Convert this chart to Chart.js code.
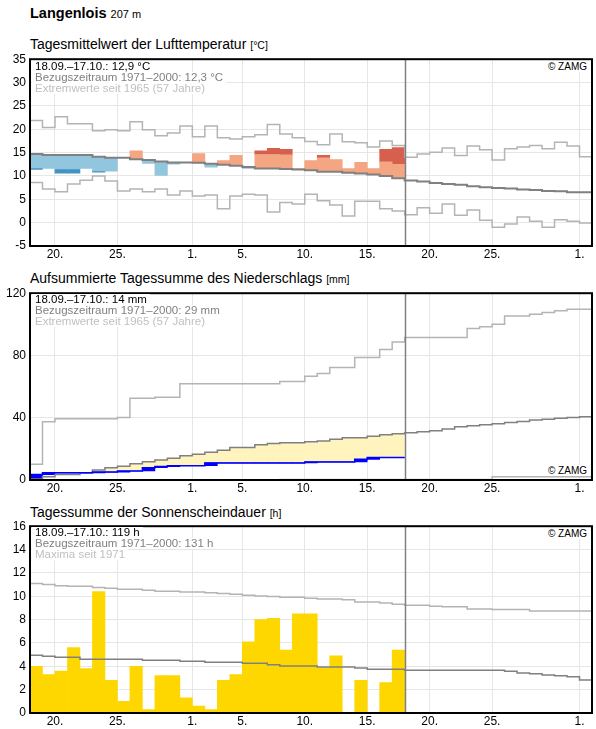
<!DOCTYPE html>
<html lang="de">
<head>
<meta charset="UTF-8">
<title>Langenlois</title>
<style>
  body { margin: 0; background: #fff; font-family: "Liberation Sans", Arial, sans-serif; color: #000; }
  #page { position: relative; width: 596px; height: 729px; overflow: hidden; }
  .box { position: absolute; left: 0; width: 596px; height: 214px; }
  .head { position: absolute; left: 30px; top: 5px; font-size: 14.5px; line-height: 17px; font-weight: bold; white-space: nowrap; }
  .head small { font-size: 11px; font-weight: normal; }
  .title { position: absolute; left: 30px; font-size: 14px; line-height: 16px; white-space: nowrap; }
  .unit { font-size: 10.5px; }
  .info { position: absolute; left: 32px; font-size: 11.5px; line-height: 11px; z-index: 2; white-space: nowrap; }
  .info span { display: block; width: fit-content; background: #fff; padding: 0 3px; }
  .info .ref { color: #808080; }
  .info .ext { color: #c0c0c0; }
  .copy { position: absolute; right: 6px; font-size: 10px; line-height: 11px; background: #fff; padding: 0 3px; z-index: 2; }
</style>
</head>
<body>
<div id="page">
  <div class="head">Langenlois <small>207 m</small></div>

  <div class="title" style="top:36px">Tagesmittelwert der Lufttemperatur <span class="unit">[°C]</span></div>
  <div class="box" style="top:48px"><canvas id="temp"></canvas></div>
  <div class="info" style="top:61px"><span>18.09.–17.10.: 12,9 °C</span><span class="ref">Bezugszeitraum 1971–2000: 12,3 °C</span><span class="ext">Extremwerte seit 1965 (57 Jahre)</span></div>
  <div class="copy" style="top:61px">© ZAMG</div>

  <div class="title" style="top:270px">Aufsummierte Tagessumme des Niederschlags <span class="unit">[mm]</span></div>
  <div class="box" style="top:282px"><canvas id="prec"></canvas></div>
  <div class="info" style="top:294px"><span>18.09.–17.10.: 14 mm</span><span class="ref">Bezugszeitraum 1971–2000: 29 mm</span><span class="ext">Extremwerte seit 1965 (57 Jahre)</span></div>
  <div class="copy" style="top:465px">© ZAMG</div>

  <div class="title" style="top:504px">Tagessumme der Sonnenscheindauer <span class="unit">[h]</span></div>
  <div class="box" style="top:515px"><canvas id="sun"></canvas></div>
  <div class="info" style="top:527px"><span>18.09.–17.10.: 119 h</span><span class="ref">Bezugszeitraum 1971–2000: 131 h</span><span class="ext">Maxima seit 1971</span></div>
  <div class="copy" style="top:528px">© ZAMG</div>
</div>

<script src="https://cdn.jsdelivr.net/npm/chart.js"></script>
<script>
// days 18.09. .. 01.11. (45 days), measured days 18.09. .. 17.10. (30 days)
const tickDays = [2, 7, 13, 17, 22, 27, 32, 37, 44];
const tickLabels = ['20.', '25.', '1.', '5.', '10.', '15.', '20.', '25.', '1.'];
const obsDays = 30;

// air temperature, daily mean [°C]
const tempMax = [21.9, 20.4, 22.7, 21.2, 21.2, 19.7, 19.9, 19.7, 21.6, 19.9, 18.6, 19.2, 20.7, 18.4, 20.7, 18.2, 17.9, 18.4, 18.8, 21.0, 19.0, 18.2, 17.4, 16.7, 19.0, 17.3, 17.1, 16.2, 17.5, 16.5, 14.0, 14.7, 15.1, 16.0, 14.4, 16.4, 15.6, 13.4, 15.8, 16.2, 16.5, 15.8, 17.2, 16.4, 14.1];
const tempMin = [8.6, 7.2, 6.6, 8.3, 9.1, 10.0, 8.9, 6.8, 7.2, 6.6, 7.2, 5.9, 6.8, 5.7, 5.9, 3.0, 5.7, 6.1, 5.9, 2.3, 4.3, 4.0, 6.1, 4.7, 3.8, 1.4, 4.6, 4.6, 3.0, 2.5, 1.7, 3.2, 2.0, 4.0, 1.6, 2.7, 0.5, -1.0, -0.3, 1.2, 0.3, -1.0, 0.6, 0.3, -0.1];
const tempNorm = [14.7, 14.5, 14.5, 14.5, 14.5, 14.1, 13.9, 13.9, 13.6, 13.4, 13.1, 12.9, 12.9, 12.8, 12.6, 12.4, 12.2, 11.9, 11.6, 11.6, 11.5, 11.4, 11.2, 10.9, 10.9, 10.7, 10.5, 10.3, 10.0, 9.5, 9.0, 8.8, 8.5, 8.3, 8.1, 7.8, 7.6, 7.4, 7.3, 7.1, 7.0, 6.8, 6.7, 6.5, 6.5];
const tempObs = [11.4, 11.6, 10.6, 10.6, 11.6, 10.8, 11.0, 13.9, 15.4, 12.7, 10.1, 12.5, 12.9, 14.8, 11.9, 13.3, 14.4, 11.6, 15.4, 15.9, 15.7, 11.6, 13.3, 14.4, 13.5, 11.6, 12.9, 11.6, 15.7, 16.1];

// precipitation, accumulated [mm]
const precMax = [10.1, 37.4, 39.3, 39.3, 39.3, 39.3, 39.3, 40.2, 52.5, 52.5, 53.1, 53.1, 61.9, 61.9, 61.9, 61.9, 61.9, 61.9, 61.9, 61.9, 63.2, 63.2, 66.6, 68.4, 72.2, 72.2, 78.7, 78.7, 83.9, 88.6, 91.6, 91.6, 91.6, 91.6, 91.6, 97.4, 98.5, 100.0, 105.4, 105.4, 106.5, 107.6, 108.8, 109.7, 109.7];
const precMin = [0, 0, 0, 0, 0, 0, 0, 0, 0, 0, 0, 0, 0, 0, 0, 0, 0, 0, 0, 0, 0.4, 0.4, 0.4, 0.4, 0.4, 0.4, 0.4, 0.4, 0.4, 0.4, 0.4, 0.4, 0.4, 0.4, 0.4, 0.4, 0.4, 2.1, 2.1, 2.1, 2.1, 2.1, 2.1, 2.1, 2.1];
const precNorm = [0.6, 2.1, 3.6, 3.6, 4.5, 6.4, 7.9, 8.8, 10.5, 11.8, 12.9, 14.0, 15.5, 16.6, 17.8, 19.1, 20.8, 20.8, 22.6, 23.5, 23.9, 23.9, 24.5, 25.1, 26.2, 27.2, 27.2, 28.1, 29.0, 29.7, 30.3, 31.0, 31.6, 32.7, 34.2, 34.8, 35.5, 36.1, 37.0, 37.6, 38.5, 39.0, 39.6, 40.2, 40.7];
const precObs = [3.5, 4.6, 4.6, 4.6, 4.6, 5.1, 5.1, 5.8, 5.8, 7.9, 8.6, 9.2, 9.2, 9.2, 11.0, 11.0, 11.0, 11.0, 11.0, 11.0, 11.0, 11.0, 11.6, 11.6, 11.6, 11.6, 13.3, 14.4, 14.4, 14.4];

// sunshine duration, daily sum [h]
const sunMax = [11.09, 11.0, 10.91, 10.86, 10.86, 10.74, 10.69, 10.6, 10.6, 10.51, 10.43, 10.43, 10.37, 10.37, 10.31, 10.24, 10.17, 10.09, 10.03, 9.97, 9.91, 9.91, 9.83, 9.77, 9.77, 9.69, 9.51, 9.51, 9.43, 9.31, 9.23, 9.23, 9.14, 9.09, 9.09, 8.91, 8.91, 8.86, 8.86, 8.86, 8.74, 8.74, 8.74, 8.74, 8.74];
const sunNorm = [4.94, 4.86, 4.77, 4.77, 4.6, 4.6, 4.6, 4.6, 4.6, 4.51, 4.51, 4.51, 4.43, 4.43, 4.34, 4.34, 4.34, 4.26, 4.26, 4.14, 4.03, 4.03, 4.03, 3.94, 3.94, 3.94, 3.86, 3.74, 3.74, 3.74, 3.66, 3.66, 3.66, 3.66, 3.66, 3.66, 3.66, 3.66, 3.57, 3.43, 3.37, 3.26, 3.2, 3.11, 2.83];
const sunObs = [4.0, 3.3, 3.6, 5.6, 3.8, 10.4, 2.8, 1.0, 4.0, 0.3, 3.2, 3.2, 1.3, 0.6, 0.3, 2.8, 3.3, 6.1, 8.0, 8.1, 5.4, 8.5, 8.5, 3.9, 4.9, 0, 2.8, 0, 2.6, 5.4];

const LIGHT = '#b4b4b4', DARK = '#808080';

Chart.defaults.font.family = '"Liberation Sans", Arial, sans-serif';
Chart.defaults.font.size = 12;
Chart.defaults.color = '#000';
Chart.defaults.animation = false;

// stepped line: value of day i spans [i, i+1]
function stepLine(values, color, width) {
    const pts = values.map((v, i) => ({ x: i, y: v }));
    pts.push({ x: values.length, y: values[values.length - 1] });
    return {
        type: 'line', data: pts, borderColor: color, borderWidth: width,
        stepped: true, pointRadius: 0, fill: false, order: 1
    };
}

function barSet(ranges, colors) {
    const data = [], bg = [];
    ranges.forEach((r, i) => {
        if (r) { data.push({ x: i + 0.5, y: r }); bg.push(colors[i]); }
    });
    return {
        type: 'bar', data: data, backgroundColor: bg, borderWidth: 0,
        barPercentage: 1, categoryPercentage: 1, grouped: false, order: 5
    };
}

const frame = {
    id: 'frame',
    afterDatasetsDraw(chart) {
        const { ctx, chartArea: a, scales: { x } } = chart;
        const xt = Math.round(x.getPixelForValue(obsDays)) + 0.5;
        ctx.save();
        ctx.strokeStyle = DARK;
        ctx.lineWidth = 1.5;
        ctx.beginPath();
        ctx.moveTo(xt, a.top);
        ctx.lineTo(xt, a.bottom);
        ctx.stroke();
        ctx.strokeStyle = '#000';
        ctx.lineWidth = 2;
        ctx.strokeRect(a.left, a.top, a.right - a.left, a.bottom - a.top);
        ctx.restore();
    }
};

function makeChart(id, datasets, yMin, yMax, yStep) {
    return new Chart(document.getElementById(id), {
        type: 'line',
        data: { datasets: datasets },
        plugins: [frame],
        options: {
            responsive: true,
            maintainAspectRatio: false,
            layout: { padding: { top: 10, right: 4, bottom: 0, left: 0 } },
            plugins: {
                legend: { display: false },
                tooltip: { enabled: false },
                filler: { drawTime: 'beforeDatasetsDraw' }
            },
            scales: {
                x: {
                    type: 'linear', min: 0, max: 45, offset: false,
                    afterBuildTicks: s => { s.ticks = tickDays.map(v => ({ value: v })); },
                    afterFit: s => { s.height = 16; },
                    ticks: { callback: (v, i) => tickLabels[i], padding: 1, maxRotation: 0, autoSkip: false },
                    grid: { color: '#e6e6e6', drawTicks: false, offset: false },
                    border: { display: false }
                },
                y: {
                    min: yMin, max: yMax,
                    afterFit: s => { s.width = 30; },
                    ticks: { stepSize: yStep, padding: 4 },
                    grid: { color: '#e6e6e6', drawTicks: false },
                    border: { display: false }
                }
            }
        }
    });
}

// temperature: bar from normal to observed, darker beyond 3 °C anomaly
const tLight = [], tDark = [], cLight = [], cDark = [];
tempObs.forEach((v, i) => {
    const n = tempNorm[i], d = v - n, s = Math.sign(d);
    if (Math.abs(d) <= 3) {
        tLight.push(d === 0 ? null : [n, v]);
        tDark.push(null);
    } else {
        tLight.push([n, n + 3 * s]);
        tDark.push([n + 3 * s, v]);
    }
    cLight.push(d < 0 ? '#92c5de' : '#f4a582');
    cDark.push(d < 0 ? '#4393c3' : '#d6604d');
});

makeChart('temp', [
    stepLine(tempNorm, DARK, 2),
    stepLine(tempMax, LIGHT, 1.5),
    stepLine(tempMin, LIGHT, 1.5),
    barSet(tLight, cLight),
    barSet(tDark, cDark)
], -5, 35, 5);

// precipitation: daily increments as blue bars on the accumulated line
const pBars = precObs.map((v, i) => [i > 0 ? precObs[i - 1] : 0, v]);
const precObsLine = stepLine(precObs, '#0000ff', 1.5);
precObsLine.fill = { target: 3, above: 'rgba(0,0,0,0)', below: '#fff4bd' };
precObsLine.order = 0;

makeChart('prec', [
    stepLine(precMax, LIGHT, 1.5),
    stepLine(precMin, LIGHT, 1.5),
    precObsLine,
    stepLine(precNorm, DARK, 1.5),
    barSet(pBars, pBars.map(() => '#0000ff'))
], 0, 120, 40);

// sunshine
makeChart('sun', [
    stepLine(sunMax, LIGHT, 1.5),
    stepLine(sunNorm, DARK, 1.5),
    barSet(sunObs.map(v => [0, v]), sunObs.map(() => '#ffd700'))
], 0, 16, 2);
</script>
</body>
</html>
